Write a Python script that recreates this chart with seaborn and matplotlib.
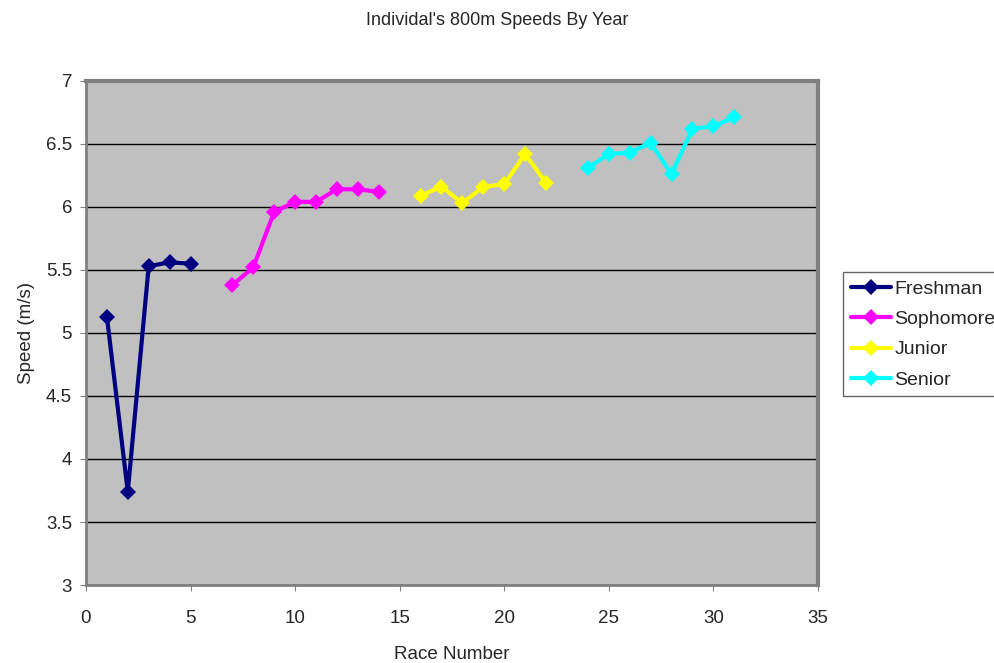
import pandas as pd
import matplotlib.pyplot as plt
import seaborn as sns

anos = ["Freshman", "Sophomore", "Junior", "Senior"]
cores = ["#000080", "#FF00FF", "#FFFF00", "#00FFFF"]

corrida_fresh = [1, 2, 3, 4, 5]
vel_fresh = [5.13, 3.74, 5.53, 5.56, 5.55]
corrida_soph = [7, 8, 9, 10, 11, 12, 13, 14]
vel_soph = [5.38, 5.52, 5.96, 6.04, 6.04, 6.14, 6.14, 6.12]
corrida_jun = [16, 17, 18, 19, 20, 21, 22]
vel_jun = [6.09, 6.16, 6.03, 6.16, 6.18, 6.42, 6.19]
corrida_sen = [24, 25, 26, 27, 28, 29, 30, 31]
vel_sen = [6.31, 6.42, 6.43, 6.51, 6.26, 6.62, 6.64, 6.71]

corridas = [corrida_fresh, corrida_soph, corrida_jun, corrida_sen]
velocidades = [vel_fresh, vel_soph, vel_jun, vel_sen]

linhas = []
for ano, xs, ys in zip(anos, corridas, velocidades):
    for x, y in zip(xs, ys):
        linhas.append((ano, x, y))
df = pd.DataFrame(linhas, columns=["ano", "corrida", "velocidade"])

sns.set_style("white")
plt.rcParams['font.family'] = ['Liberation Sans', 'DejaVu Sans']

fig = plt.figure(figsize=(9.95, 6.63), dpi=100)
ax = fig.add_axes([0.0864, 0.1176, 0.7356, 0.7604])
ax.set_facecolor("#C0C0C0")

sns.lineplot(data=df, x="corrida", y="velocidade", hue="ano", hue_order=anos,
             palette=cores, marker="D", markersize=8, markeredgewidth=0,
             linewidth=3, ax=ax)

ax.set_xlim(0, 35)
ax.set_ylim(3, 7)
ax.set_xticks(range(0, 36, 5))
ax.set_yticks([3, 3.5, 4, 4.5, 5, 5.5, 6, 6.5, 7])
ax.set_yticklabels(["3", "3.5", "4", "4.5", "5", "5.5", "6", "6.5", "7"])
ax.yaxis.grid(True, color="black", linewidth=1)
ax.set_axisbelow(True)
ax.tick_params(axis="both", labelsize=13.5, length=4, direction="out",
               left=True, bottom=True, color="#808080")
ax.tick_params(axis="x", pad=14)
ax.tick_params(axis="y", pad=6)
for lado in ["top", "right"]:
    ax.spines[lado].set_color("#808080")
    ax.spines[lado].set_linewidth(3)
for lado in ["left", "bottom"]:
    ax.spines[lado].set_color("#808080")
    ax.spines[lado].set_linewidth(2)

ax.set_xlabel("Race Number", fontsize=13.5, labelpad=14)
ax.set_ylabel("Speed (m/s)", fontsize=13.5, labelpad=8)
fig.suptitle("Individal's 800m Speeds By Year", fontsize=13, x=0.5, y=0.982)

leg = ax.legend(loc="upper left", bbox_to_anchor=(1.034, 0.62), frameon=True,
                fancybox=False, fontsize=14, handlelength=2.1, handletextpad=0.15,
                borderpad=0.4, labelspacing=0.65, borderaxespad=0)
leg.get_frame().set_edgecolor("#404040")
leg.get_frame().set_linewidth(1)

plt.savefig("out.png", dpi=100)
